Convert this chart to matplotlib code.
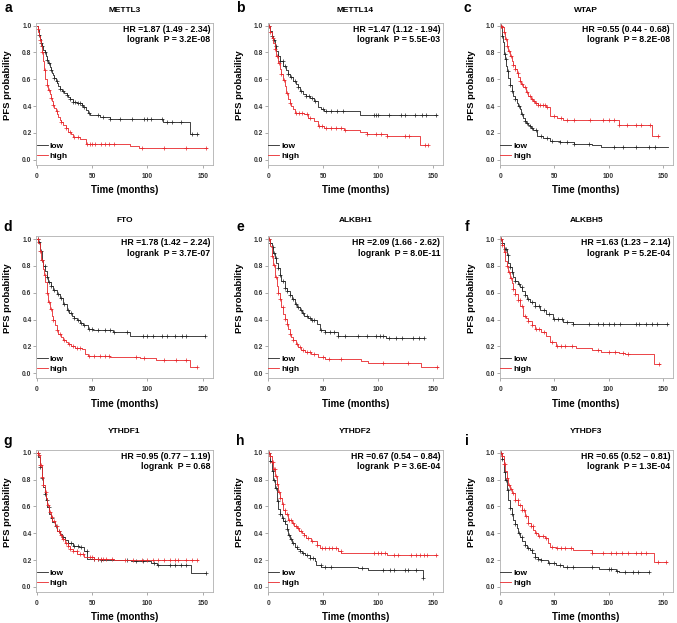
import numpy as np
import matplotlib
matplotlib.use("Agg")
import matplotlib.pyplot as plt

plt.rcParams['font.family'] = ['Liberation Sans', 'DejaVu Sans']
plt.rcParams['font.weight'] = 'bold'

genes = ['METTL3', 'METTL14', 'WTAP', 'FTO', 'ALKBH1', 'ALKBH5', 'YTHDF1', 'YTHDF2', 'YTHDF3']
letters = ['a', 'b', 'c', 'd', 'e', 'f', 'g', 'h', 'i']
hr_labels = ['HR =1.87 (1.49 - 2.34)', 'HR =1.47 (1.12 - 1.94)', 'HR =0.55 (0.44 - 0.68)',
             'HR =1.78 (1.42 \u2013 2.24)', 'HR =2.09 (1.66 - 2.62)', 'HR =1.63 (1.23 \u2013 2.14)',
             'HR =0.95 (0.77 \u2013 1.19)', 'HR =0.67 (0.54 \u2013 0.84)', 'HR =0.65 (0.52 \u2013 0.81)']
p_labels = ['logrank  P = 3.2E-08', 'logrank  P = 5.5E-03', 'logrank  P = 8.2E-08',
            'logrank  P = 3.7E-07', 'logrank  P = 8.0E-11', 'logrank  P = 5.2E-04',
            'logrank  P = 0.68', 'logrank  P = 3.6E-04', 'logrank  P = 1.3E-04']

# METTL3
mettl3_low_t = [0, 1, 2, 3, 4, 5, 6, 7, 8, 9, 10.5, 12, 13, 14, 15, 16, 17.5, 18.5, 19.6, 21, 23, 25, 27, 28.5, 30, 33, 36, 40.6, 42, 44.5, 46, 48, 57, 66, 114, 138.5, 146]
mettl3_low_s = [1, 0.97, 0.93, 0.9, 0.87, 0.845, 0.82, 0.8, 0.77, 0.745, 0.72, 0.695, 0.67, 0.65, 0.63, 0.61, 0.59, 0.57, 0.55, 0.53, 0.51, 0.495, 0.48, 0.465, 0.45, 0.43, 0.42, 0.41, 0.395, 0.37, 0.35, 0.335, 0.32, 0.305, 0.28, 0.19, 0.19]
mettl3_low_c = [2, 4, 5, 7, 9, 11, 13, 16, 18, 21, 24, 27, 30, 33, 35, 37, 39, 41, 43, 47, 55, 60, 66, 75, 86, 97, 100, 103, 113, 118, 122, 130, 140, 145]
mettl3_high_t = [0, 1, 1.5, 2, 3, 3.7, 4.5, 5.4, 6.5, 7.5, 9, 10.5, 12, 13, 14, 15, 16, 17, 18.5, 19.6, 21, 22, 24, 26, 28.6, 31, 33, 39, 44.5, 84, 88, 92, 153.5]
mettl3_high_s = [1, 0.975, 0.95, 0.92, 0.89, 0.85, 0.8, 0.74, 0.67, 0.6, 0.56, 0.52, 0.49, 0.46, 0.435, 0.41, 0.385, 0.36, 0.34, 0.32, 0.3, 0.28, 0.26, 0.235, 0.21, 0.19, 0.17, 0.155, 0.12, 0.105, 0.1, 0.09, 0.09]
mettl3_high_c = [1, 3, 5, 7, 9, 11, 13, 15, 18, 22, 26, 30, 34, 37, 45, 48, 50, 53, 58, 62, 65, 70, 95, 115, 135, 153]

# METTL14
mettl14_low_t = [0, 1.5, 3, 4.5, 6, 7.5, 9, 11, 13.5, 16, 18, 20, 22.6, 25, 27, 29, 31.6, 34, 37.6, 42, 45, 48, 51, 84, 153.6]
mettl14_low_s = [1, 0.96, 0.925, 0.89, 0.85, 0.81, 0.775, 0.74, 0.70, 0.67, 0.64, 0.615, 0.59, 0.565, 0.54, 0.515, 0.49, 0.475, 0.46, 0.44, 0.39, 0.375, 0.36, 0.335, 0.335]
mettl14_low_c = [1, 3, 5, 7, 9, 11, 13, 15, 18, 21, 24, 27, 30, 34, 37, 40, 43, 50, 53, 57, 63, 68, 96, 98, 100, 110, 121, 125, 134, 140, 144, 153]
mettl14_high_t = [0, 1.5, 3, 4.5, 6, 7.5, 9, 10.5, 12, 13.5, 15, 16.5, 18, 19.5, 21, 22.5, 24, 33, 36, 42, 45, 51, 69, 84, 90, 108, 138.5, 146]
mettl14_high_s = [1, 0.955, 0.91, 0.87, 0.825, 0.775, 0.725, 0.68, 0.64, 0.595, 0.55, 0.5, 0.45, 0.425, 0.40, 0.375, 0.35, 0.34, 0.31, 0.29, 0.25, 0.24, 0.22, 0.21, 0.195, 0.175, 0.11, 0.11]
mettl14_high_c = [1, 2, 4, 6, 8, 10, 12, 14, 17, 20, 25, 28, 31, 35, 38, 46, 49, 53, 57, 62, 66, 70, 90, 98, 103, 108, 125, 128, 143, 146]

# WTAP
wtap_low_t = [0, 1.5, 2.2, 3, 3.8, 4.6, 5.3, 6, 7.5, 9, 10.5, 12, 13.5, 15, 16.5, 18, 19.5, 21, 22.5, 24, 25.5, 27, 28.5, 30, 33.5, 39.5, 45.6, 55, 68, 85, 93, 154.6]
wtap_low_s = [1, 0.925, 0.875, 0.825, 0.79, 0.75, 0.7, 0.66, 0.61, 0.56, 0.515, 0.475, 0.45, 0.425, 0.4, 0.375, 0.34, 0.31, 0.29, 0.275, 0.26, 0.25, 0.235, 0.225, 0.18, 0.16, 0.14, 0.13, 0.12, 0.11, 0.095, 0.095]
wtap_low_c = [1, 2, 4, 5, 7, 9, 11, 14, 17, 20, 23, 25, 27, 29, 33, 38, 43, 48, 55, 62, 68, 82, 105, 113, 125, 137, 143, 155]
wtap_high_t = [0, 1.5, 3, 4.6, 6, 7.5, 9, 10.5, 12, 13.5, 15, 16.5, 18, 19.5, 21, 23.5, 26, 28, 30, 32.5, 35, 42.6, 45.6, 52, 58, 109.5, 140, 146.7]
wtap_high_s = [1, 0.99, 0.95, 0.9, 0.85, 0.81, 0.775, 0.74, 0.71, 0.68, 0.65, 0.62, 0.59, 0.565, 0.54, 0.505, 0.475, 0.455, 0.44, 0.425, 0.41, 0.39, 0.325, 0.31, 0.30, 0.26, 0.175, 0.175]
wtap_high_c = [1, 2, 3, 5, 6, 8, 10, 12, 14, 16, 18, 20, 23, 25, 27, 29, 31, 33, 35, 37, 39, 41, 43, 50, 56, 62, 68, 83, 95, 100, 105, 110, 117, 125, 130, 138, 146]

# FTO
fto_low_t = [0, 1.5, 3, 4.5, 6, 7.5, 9, 10.5, 13, 15, 18, 21, 24, 27, 29, 31.6, 34, 36, 39, 42, 46.7, 51, 69, 84, 152]
fto_low_s = [1, 0.98, 0.91, 0.845, 0.8, 0.76, 0.72, 0.68, 0.65, 0.62, 0.59, 0.56, 0.52, 0.47, 0.45, 0.43, 0.41, 0.395, 0.375, 0.36, 0.33, 0.32, 0.31, 0.28, 0.28]
fto_low_c = [1, 2, 4, 5, 7, 9, 11, 13, 16, 19, 22, 25, 28, 31, 34, 37, 40, 43, 47, 50, 55, 62, 66, 70, 82, 96, 100, 105, 113, 118, 125, 131, 135, 152]
fto_high_t = [0, 1.5, 3, 4.2, 5.4, 6.5, 7.5, 9, 10.5, 12, 13.5, 15, 16.6, 18, 19.6, 22, 24, 26, 28.6, 31, 34.6, 40.7, 43.7, 46.7, 66, 93, 108, 138.6, 145]
fto_high_s = [1, 0.97, 0.91, 0.845, 0.78, 0.73, 0.68, 0.6, 0.53, 0.48, 0.43, 0.395, 0.36, 0.325, 0.295, 0.27, 0.245, 0.23, 0.22, 0.205, 0.19, 0.18, 0.145, 0.13, 0.12, 0.11, 0.10, 0.05, 0.05]
fto_high_c = [1, 3, 5, 7, 9, 11, 13, 15, 18, 21, 25, 29, 33, 36, 39, 47, 52, 57, 62, 65, 90, 97, 115, 126, 135, 145]

# ALKBH1
alkbh1_low_t = [0, 1.5, 3, 4.5, 6, 7.5, 9, 10.5, 12, 15, 17, 19.7, 22, 24, 26.5, 28.8, 31, 33, 36, 39.4, 44, 47, 51.5, 63.6, 107.6, 142.4]
alkbh1_low_s = [1, 0.975, 0.94, 0.9, 0.86, 0.82, 0.785, 0.735, 0.685, 0.635, 0.61, 0.585, 0.55, 0.52, 0.495, 0.47, 0.45, 0.43, 0.41, 0.395, 0.37, 0.32, 0.31, 0.28, 0.26, 0.26]
alkbh1_low_c = [1, 2, 4, 5, 7, 9, 11, 13, 15, 17, 20, 23, 25, 27, 30, 32, 35, 38, 40, 42, 48, 52, 56, 60, 64, 70, 82, 90, 98, 102, 105, 110, 116, 122, 132, 137, 142]
alkbh1_high_t = [0, 1.5, 3, 4.5, 6, 7.6, 9, 10.6, 12, 13.6, 15, 16.7, 18, 19.7, 21, 22.7, 25, 27.3, 30, 33.3, 39.4, 45.5, 51.5, 84.8, 91, 139.4, 154.5]
alkbh1_high_s = [1, 0.95, 0.875, 0.81, 0.72, 0.65, 0.6, 0.55, 0.495, 0.445, 0.405, 0.37, 0.33, 0.295, 0.27, 0.245, 0.22, 0.195, 0.175, 0.155, 0.145, 0.12, 0.105, 0.09, 0.08, 0.05, 0.05]
alkbh1_high_c = [1, 3, 5, 7, 9, 11, 13, 15, 17, 20, 23, 26, 29, 32, 35, 38, 42, 50, 55, 66, 105, 127, 154]

# ALKBH5
alkbh5_low_t = [0, 1.5, 3, 6, 7.6, 9, 10.6, 12, 13.7, 16, 18.3, 20.5, 22.8, 25, 27.4, 32, 36.5, 42.6, 48.7, 57.8, 67, 154.6]
alkbh5_low_s = [1, 0.97, 0.93, 0.88, 0.82, 0.79, 0.755, 0.72, 0.69, 0.665, 0.64, 0.61, 0.58, 0.555, 0.53, 0.505, 0.475, 0.44, 0.405, 0.385, 0.37, 0.37]
alkbh5_low_c = [1, 2, 4, 5, 7, 9, 11, 14, 17, 20, 23, 26, 29, 32, 36, 40, 45, 50, 53, 57, 62, 67, 82, 90, 95, 100, 105, 111, 125, 128, 135, 140, 145, 154]
alkbh5_high_t = [0, 1.5, 3, 4.6, 6, 7.6, 9, 10.6, 12, 13.7, 16, 18.3, 21.3, 23.5, 25.9, 29, 32, 38, 42.6, 45.6, 51.7, 70, 85, 93, 109.5, 115.6, 141.5, 147.6]
alkbh5_high_s = [1, 0.955, 0.905, 0.84, 0.8, 0.755, 0.71, 0.67, 0.63, 0.59, 0.545, 0.505, 0.43, 0.41, 0.39, 0.36, 0.33, 0.31, 0.28, 0.23, 0.205, 0.19, 0.175, 0.16, 0.15, 0.14, 0.07, 0.07]
alkbh5_high_c = [1, 2, 4, 6, 8, 10, 12, 14, 16, 18, 20, 23, 26, 29, 33, 36, 40, 48, 52, 56, 60, 66, 90, 100, 106, 113, 118, 147]

# YTHDF1
ythdf1_low_t = [0, 1.5, 3, 4.5, 6, 7, 8.1, 9.5, 11.2, 12.7, 14.2, 16.5, 18.7, 21, 23.2, 25.5, 27.8, 32.3, 38.3, 42.9, 45.3, 58, 85, 103, 109, 139.4, 153]
ythdf1_low_s = [1, 0.97, 0.895, 0.81, 0.745, 0.695, 0.645, 0.595, 0.545, 0.51, 0.48, 0.45, 0.42, 0.395, 0.37, 0.35, 0.33, 0.305, 0.295, 0.27, 0.205, 0.2, 0.19, 0.18, 0.16, 0.105, 0.105]
ythdf1_low_c = [1, 3, 5, 7, 9, 11, 14, 17, 20, 24, 28, 31, 34, 37, 40, 45, 52, 55, 58, 82, 90, 96, 106, 110, 120, 125, 130, 135, 153]
ythdf1_high_t = [0, 1.5, 3, 4.5, 6, 7, 8.1, 9.5, 11.2, 12.7, 14.2, 16.5, 18.7, 21, 23.2, 25.5, 27.8, 30, 32.3, 36.8, 43, 52, 70, 145.5]
ythdf1_high_s = [1, 0.98, 0.91, 0.82, 0.76, 0.71, 0.66, 0.61, 0.555, 0.52, 0.49, 0.455, 0.42, 0.39, 0.355, 0.33, 0.305, 0.285, 0.27, 0.245, 0.22, 0.205, 0.2, 0.2]
ythdf1_high_c = [1, 2, 3, 4, 5, 6, 8, 10, 12, 14, 16, 18, 20, 22, 24, 26, 28, 30, 33, 36, 39, 42, 48, 50, 52, 55, 58, 60, 63, 68, 80, 87, 95, 100, 105, 110, 115, 120, 125, 128, 135, 140, 145]

# YTHDF2
ythdf2_low_t = [0, 1.5, 3, 4.5, 6.1, 7.6, 9.1, 10.6, 12.1, 13.6, 15.2, 16.7, 18.2, 19.7, 21.2, 24.2, 26.5, 28.8, 31, 33.3, 37.9, 42.4, 43.9, 48.5, 81.8, 90.9, 140.9, 141.5]
ythdf2_low_s = [1, 0.94, 0.865, 0.8, 0.74, 0.64, 0.58, 0.545, 0.515, 0.49, 0.465, 0.43, 0.39, 0.355, 0.325, 0.30, 0.28, 0.265, 0.25, 0.235, 0.215, 0.195, 0.165, 0.15, 0.14, 0.125, 0.065, 0.065]
ythdf2_low_c = [1, 2, 4, 5, 7, 9, 11, 13, 15, 17, 19, 21, 23, 26, 29, 32, 35, 38, 41, 48, 52, 57, 85, 105, 111, 115, 125, 127, 135, 141]
ythdf2_high_t = [0, 1.5, 3, 4.5, 6.1, 7.6, 9.1, 10.6, 12.1, 13.6, 15.2, 18.2, 21.2, 23.5, 25.8, 28, 30.3, 32.5, 34.8, 39.4, 44, 47, 63.6, 66.7, 108, 153.6]
ythdf2_high_s = [1, 0.975, 0.93, 0.88, 0.83, 0.765, 0.705, 0.66, 0.615, 0.575, 0.54, 0.5, 0.475, 0.455, 0.44, 0.42, 0.40, 0.385, 0.365, 0.34, 0.315, 0.29, 0.265, 0.255, 0.235, 0.235]
ythdf2_high_c = [1, 2, 3, 4, 5, 6, 7, 8, 10, 11, 13, 15, 17, 19, 21, 23, 25, 27, 30, 33, 36, 40, 44, 49, 52, 55, 58, 62, 66, 96, 100, 103, 106, 115, 118, 130, 135, 138, 142, 145, 153]

# YTHDF3
ythdf3_low_t = [0, 1.5, 3, 4.6, 6, 7.6, 9, 10.5, 12, 13.5, 15, 16.5, 18, 20.5, 22.8, 25, 27.4, 29.5, 32, 35, 38, 44, 51.7, 57.8, 91, 106.5, 109.5, 137]
ythdf3_low_s = [1, 0.95, 0.86, 0.8, 0.725, 0.65, 0.5875, 0.54, 0.5, 0.47, 0.4375, 0.405, 0.375, 0.34, 0.31, 0.29, 0.275, 0.25, 0.225, 0.21, 0.2, 0.175, 0.1625, 0.15, 0.13, 0.12, 0.1125, 0.1125]
ythdf3_low_c = [1, 2, 4, 5, 7, 9, 11, 14, 17, 20, 23, 26, 29, 32, 35, 38, 45, 50, 55, 62, 67, 85, 100, 102, 108, 115, 123, 127, 137]
ythdf3_high_t = [0, 1.5, 3, 4.6, 6, 7.6, 9, 10.6, 13.7, 16.7, 19.8, 22.8, 25.9, 28, 30.4, 32.5, 35, 41, 44, 45.6, 51.7, 67, 85, 141.5, 153.7]
ythdf3_high_s = [1, 0.975, 0.9125, 0.8625, 0.8125, 0.7625, 0.73, 0.7, 0.65, 0.6125, 0.575, 0.525, 0.475, 0.45, 0.425, 0.4, 0.38, 0.3625, 0.325, 0.3, 0.2875, 0.275, 0.255, 0.1875, 0.1875]
ythdf3_high_c = [1, 2, 3, 4, 6, 8, 10, 12, 14, 16, 18, 20, 22, 24, 26, 28, 30, 33, 36, 39, 42, 48, 52, 56, 60, 65, 85, 95, 102, 107, 112, 118, 125, 130, 135, 146, 153]

low_curves = [(mettl3_low_t, mettl3_low_s, mettl3_low_c), (mettl14_low_t, mettl14_low_s, mettl14_low_c),
              (wtap_low_t, wtap_low_s, wtap_low_c), (fto_low_t, fto_low_s, fto_low_c),
              (alkbh1_low_t, alkbh1_low_s, alkbh1_low_c), (alkbh5_low_t, alkbh5_low_s, alkbh5_low_c),
              (ythdf1_low_t, ythdf1_low_s, ythdf1_low_c), (ythdf2_low_t, ythdf2_low_s, ythdf2_low_c),
              (ythdf3_low_t, ythdf3_low_s, ythdf3_low_c)]
high_curves = [(mettl3_high_t, mettl3_high_s, mettl3_high_c), (mettl14_high_t, mettl14_high_s, mettl14_high_c),
               (wtap_high_t, wtap_high_s, wtap_high_c), (fto_high_t, fto_high_s, fto_high_c),
               (alkbh1_high_t, alkbh1_high_s, alkbh1_high_c), (alkbh5_high_t, alkbh5_high_s, alkbh5_high_c),
               (ythdf1_high_t, ythdf1_high_s, ythdf1_high_c), (ythdf2_high_t, ythdf2_high_s, ythdf2_high_c),
               (ythdf3_high_t, ythdf3_high_s, ythdf3_high_c)]

LOW_COL = '#222222'
HIGH_COL = '#e8262a'
W, H = 677.0, 623.0

col_left = [36, 267.5, 499.5]
col_w = [177, 175.5, 173.3]
row_top = [22.7, 236.2, 449.8]
row_h = 142
title_off = [12.7, 16, 18]
letter_x = [8, 240, 467]
letter_y = [8, 227, 441]


def km(ax, t, s, cens, color, label):
    t = np.asarray(t, float)
    s = np.asarray(s, float)
    ax.step(t, s, where='post', color=color, lw=0.6, label=label)
    c = np.asarray([x for x in cens if x <= t[-1]], float)
    idx = np.searchsorted(t, c, side='right') - 1
    ax.plot(c, s[idx], ls='none', marker='+', ms=3.4, mew=0.5, color=color)


fig = plt.figure(figsize=(6.77, 6.23), dpi=100)

for k in range(9):
    r, col = divmod(k, 3)
    ax = fig.add_axes([col_left[col] / W, 1 - (row_top[r] + row_h) / H, col_w[col] / W, row_h / H])
    km(ax, *low_curves[k], LOW_COL, 'low')
    km(ax, *high_curves[k], HIGH_COL, 'high')
    ax.set_xlim(-0.7, 159.3)
    ax.set_ylim(-0.037, 1.022)
    ax.set_xticks([0, 50, 100, 150])
    ax.set_yticks([0, 0.2, 0.4, 0.6, 0.8, 1.0])
    ax.set_yticklabels(['0.0', '0.2', '0.4', '0.6', '0.8', '1.0'])
    for sp in ax.spines.values():
        sp.set_color('#b0b0b0')
        sp.set_linewidth(0.6)
    ax.tick_params(axis='both', direction='out', length=2.2, width=0.5, color='#888888',
                   labelsize=4.8, labelcolor='#333333')
    ax.tick_params(axis='y', pad=1)
    ax.tick_params(axis='x', pad=3.5)
    ax.set_xlabel('Time (months)', fontsize=7, fontweight='bold')
    ax.set_ylabel('PFS probability', fontsize=6.8, fontweight='bold')
    ax.xaxis.set_label_coords(0.5, -0.145)
    ax.yaxis.set_label_coords(-0.133, 0.56)
    ax.text(0.5, 1 + title_off[r] / row_h, genes[k], transform=ax.transAxes,
            ha='center', va='center', fontsize=6, fontweight='bold')
    ax.text(0.985, 0.955, hr_labels[k], transform=ax.transAxes, ha='right', va='center',
            fontsize=6.3, fontweight='bold')
    ax.text(0.985, 0.88, p_labels[k], transform=ax.transAxes, ha='right', va='center',
            fontsize=6.3, fontweight='bold')
    ax.legend(loc='lower left', bbox_to_anchor=(0.005, 0.035), frameon=False,
              handlelength=1.3, handletextpad=0.25, labelspacing=0.25, borderpad=0, borderaxespad=0,
              prop={'weight': 'bold', 'size': 6})
    fig.text(letter_x[col] / W, 1 - letter_y[r] / H, letters[k], ha='center', va='center',
             fontsize=10, fontweight='bold')

fig.savefig('out.png', dpi=100)
